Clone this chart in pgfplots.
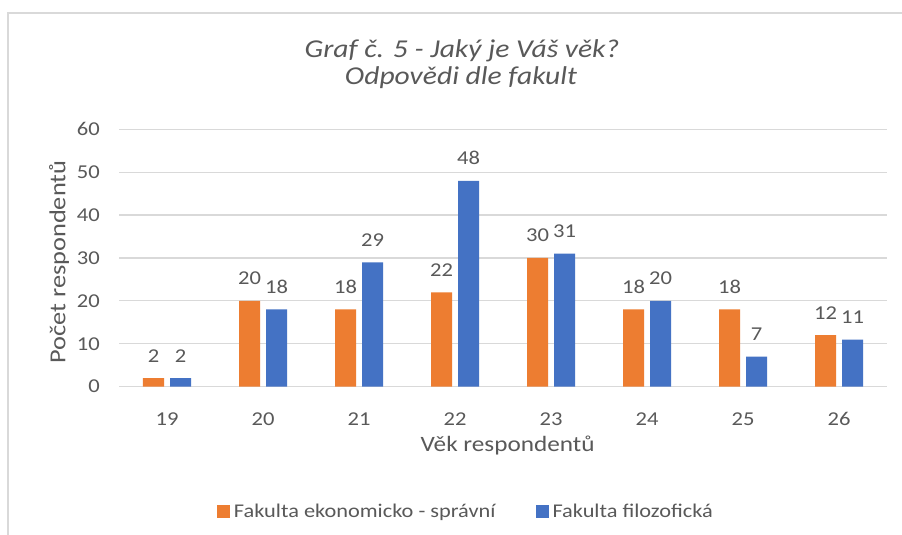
\documentclass[border=0pt]{standalone}
\usepackage{pgfplots}
\pgfplotsset{compat=1.18}
\usepackage{fontspec}
\setmainfont[FakeStretch=1.15]{Carlito}
\definecolor{cOrange}{HTML}{ED7D31}
\definecolor{cBlue}{HTML}{4472C4}
\definecolor{cText}{HTML}{595959}
\definecolor{cGrid}{HTML}{D9D9D9}
\begin{document}
\begin{tikzpicture}
\useasboundingbox (0,0) rectangle (902bp,535bp);
\fill[white] (0,0) rectangle (902bp,535bp);
\draw[cGrid, line width=1.5bp] (8bp,0) -- (8bp,522bp) -- (902bp,522bp);
\node[font=\fontsize{25.8}{30}\selectfont\itshape, text=cText, anchor=base] at (462bp,477bp) {Graf č. 5 - Jaký je Váš věk?};
\node[font=\fontsize{25.8}{30}\selectfont\itshape, text=cText, anchor=base] at (461bp,450bp) {Odpovědi dle fakult};
\begin{axis}[
  at={(119bp,148.3bp)}, anchor=south west,
  scale only axis, width=768bp, height=257.4bp,
  ybar=6bp, bar width=21bp,
  xmin=18.5, xmax=26.5, ymin=0, ymax=60,
  xtick=data, ytick={0,10,...,60},
  axis line style={draw=none},
  tick style={draw=none},
  ymajorgrids, grid style={cGrid, line width=1.2bp},
  /pgf/number format/assume math mode=true,
  tick label style={font=\fontsize{19.7}{23}\selectfont, text=cText},
  yticklabel style={anchor=east, inner sep=0pt, xshift=-19bp},
  xticklabel style={anchor=base, inner sep=0pt, yshift=-34.3bp},
  xlabel={Věk respondentů},
  ylabel={Počet respondentů},
  xlabel style={font=\fontsize{22}{26}\selectfont, text=cText, at={(axis description cs:0.506,0)}, anchor=base, inner sep=0pt, yshift=-65.3bp},
  ylabel style={font=\fontsize{23}{27}\selectfont, text=cText, at={(axis description cs:-0.0780,0.484)}, anchor=center, inner sep=0pt},
  nodes near coords,
  every node near coord/.append style={font=\fontsize{19.7}{23}\selectfont, text=cText, anchor=base, inner sep=0pt, yshift=16bp},
  legend columns=2,
  legend style={draw=none, fill=none, at={(0.1276,-0.4849)}, anchor=west,
    inner sep=0pt, outer sep=0pt, nodes={inner sep=0pt},
    font=\fontsize{19.5}{22}\selectfont, text=cText,
    /tikz/every odd column/.append style={column sep=4bp},
    /tikz/every even column/.append style={column sep=40bp}},
  legend image code/.code={\fill[#1] (0bp,-6.5bp) rectangle (13bp,6.5bp);},
]
\addplot[fill=cOrange, draw=none] coordinates {(19,2) (20,20) (21,18) (22,22) (23,30) (24,18) (25,18) (26,12)};
\addplot[fill=cBlue, draw=none] coordinates {(19,2) (20,18) (21,29) (22,48) (23,31) (24,20) (25,7) (26,11)};
\legend{Fakulta ekonomicko - správní, Fakulta filozofická}
\end{axis}
\end{tikzpicture}
\end{document}
